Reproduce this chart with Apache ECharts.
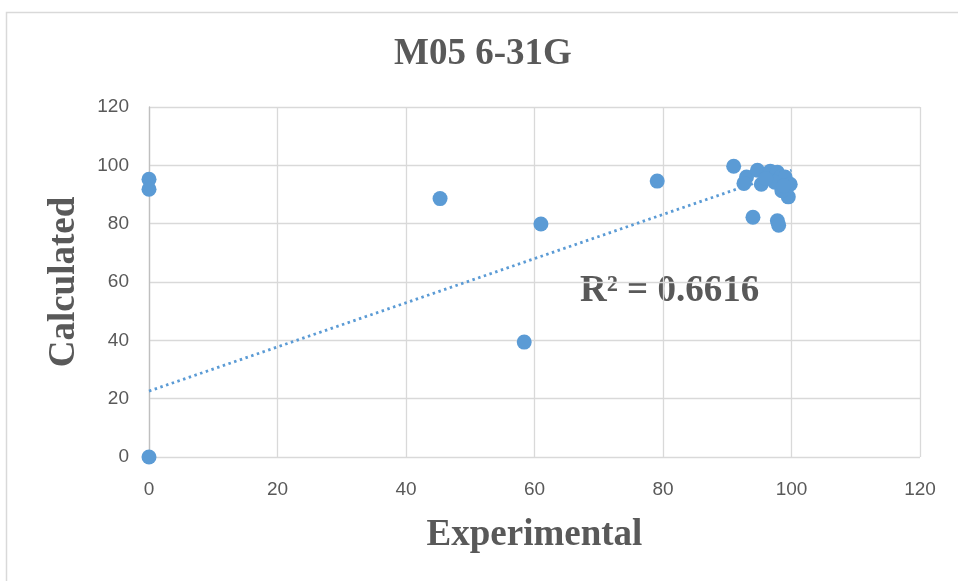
<!DOCTYPE html>
<html>
<head>
<meta charset="utf-8">
<script src="https://cdn.jsdelivr.net/npm/echarts@6/dist/echarts.min.js"></script>
<style>html,body{margin:0;padding:0;background:#fff;}#c{width:958px;height:581px;}</style>
</head>
<body>
<div id="c"></div>
<script>
const chartTitle = "M05 6-31G";
const xName = "Experimental";
const yName = "Calculated";
const r2Text = "R² = 0.6616";
const experimental = [0, 0, 0, 45.3, 58.4, 61.0, 79.1, 91.0, 94.0, 97.8, 98.0,
  93.0, 92.6, 94.7, 95.3, 96.7, 97.8, 98.3, 99.0, 99.8, 99.5, 98.5, 97.4, 98.8, 96.0];
const calculated = [95.2, 91.8, 0, 88.6, 39.4, 79.9, 94.6, 99.7, 82.2, 81.0, 79.5,
  96.0, 93.8, 98.3, 93.5, 98.0, 97.6, 96.0, 96.0, 93.5, 89.2, 91.3, 94.2, 93.0, 95.5];
const trendX = [0, 100];
const trendY = [22.6, 98.3];
const axisTicks = [0, 20, 40, 60, 80, 100, 120];

const pts = experimental.map((x, i) => [x, calculated[i]]);
const trend = trendX.map((x, i) => [x, trendY[i]]);
const blue = '#5b9bd5';
const labelFont = { color: '#595959', fontSize: 19, fontFamily: 'Liberation Sans Narrow, Liberation Sans, sans-serif' };
const serifBold = { fontFamily: 'Liberation Serif, Times New Roman, serif', fontWeight: 'bold', color: '#595959' };

const chart = echarts.init(document.getElementById('c'));
chart.setOption({
  animation: false,
  backgroundColor: '#fff',
  grid: { left: 149, right: 38, top: 107, bottom: 124 },
  graphic: [
    { type: 'rect', left: 4, top: 10, shape: { width: 1000, height: 1000 }, style: { fill: 'none', stroke: '#d9d9d9', lineWidth: 1.5 }, silent: true },
    { type: 'text', left: 394, top: 36, style: Object.assign({ text: chartTitle, fontSize: 37 }, serifBold, { fill: '#595959' }) },
    { type: 'text', left: 580, top: 273, style: Object.assign({ text: r2Text, fontSize: 37 }, serifBold, { fill: '#595959' }) }
  ],
  xAxis: {
    type: 'value', min: 0, max: 120, interval: 20,
    name: xName, nameLocation: 'middle', nameGap: 60,
    nameTextStyle: Object.assign({ fontSize: 37 }, serifBold),
    axisLine: { show: false },
    axisTick: { show: false },
    axisLabel: Object.assign({ margin: 23 }, labelFont),
    splitLine: { lineStyle: { color: '#d9d9d9', width: 1.3 } }
  },
  yAxis: {
    type: 'value', min: 0, max: 120, interval: 20,
    name: yName, nameLocation: 'middle', nameGap: 66, nameRotate: 90,
    nameTextStyle: Object.assign({ fontSize: 37 }, serifBold),
    axisLine: { show: true, lineStyle: { color: '#bfbfbf', width: 1.3 } },
    axisTick: { show: false },
    axisLabel: Object.assign({ margin: 20 }, labelFont),
    splitLine: { lineStyle: { color: '#d9d9d9', width: 1.3 } }
  },
  series: [
    {
      type: 'line', data: trend, symbol: 'none', z: 1,
      lineStyle: { color: blue, width: 2.8, type: [2.5, 3.5] }
    },
    {
      type: 'scatter', data: pts, symbol: 'circle', symbolSize: 15, z: 2,
      itemStyle: { color: blue, opacity: 1 }
    }
  ]
});
</script>
</body>
</html>
